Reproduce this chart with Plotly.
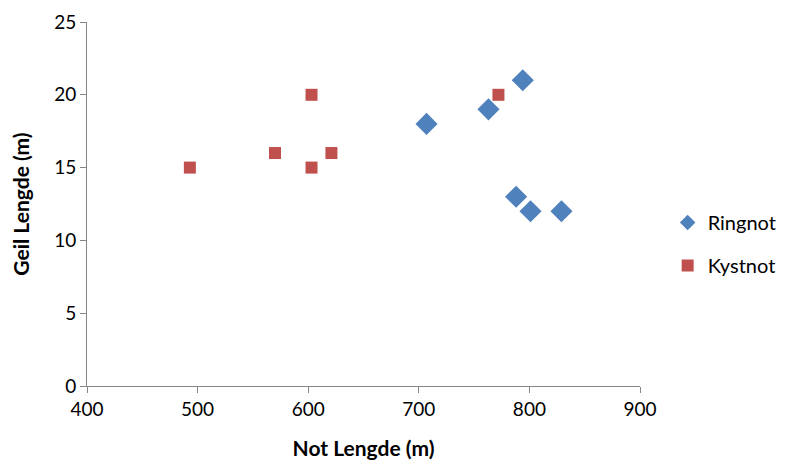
import plotly.graph_objects as go

ring_x = [707, 763, 794, 788, 801, 829]
ring_y = [18, 19, 21, 13, 12, 12]
kyst_x = [493, 570, 603, 603, 621, 772]
kyst_y = [15, 16, 20, 15, 16, 20]

FONT = "Lato"

fig = go.Figure()
fig.add_trace(go.Scatter(x=ring_x, y=ring_y, mode="markers", name="Ringnot", legendgroup="a",
                         marker=dict(symbol="diamond", size=17, color="#4F81BD")))
fig.add_trace(go.Scatter(x=kyst_x, y=kyst_y, mode="markers", name="Kystnot", legendgroup="b",
                         marker=dict(symbol="square", size=12, color="#C0504D")))

axis_common = dict(showgrid=False, zeroline=False, showline=True, linecolor="#868686",
                   linewidth=1, ticks="outside", tickcolor="#868686", ticklen=6, automargin=False,
                   tickfont=dict(family=FONT, size=19, color="#000000"))
fig.update_xaxes(range=[400, 900], dtick=100, **axis_common,
                 title=dict(text="<b>Not Lengde (m)</b>", font=dict(family=FONT, size=21, color="#000"), standoff=22))
fig.update_yaxes(range=[0, 25], dtick=5, **axis_common,
                 title=dict(text="<b>Geil Lengde (m)</b>", font=dict(family=FONT, size=21, color="#000"), standoff=25))

fig.update_layout(width=786, height=463, plot_bgcolor="white", paper_bgcolor="white",
                  margin=dict(l=79, r=154, t=14, b=85),
                  legend=dict(x=1.05, y=0.39, xanchor="left", yanchor="middle",
                              font=dict(family=FONT, size=20, color="#000"),
                              tracegroupgap=14, itemsizing="constant"),
                  showlegend=True)
fig.write_html("out.html")
